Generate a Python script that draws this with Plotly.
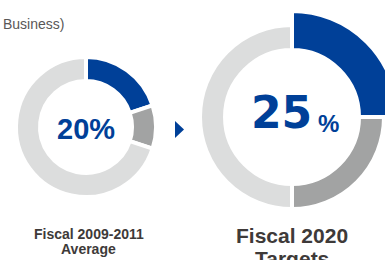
import plotly.graph_objects as go

W, H = 400, 260

# Data
left_labels = ["Share", "Other A", "Other B"]
left_values = [20, 10, 70]
right_labels = ["Share", "Other A", "Other B"]
right_values = [25, 25, 50]
left_center_text = "20%"
right_center_num = "25"
title_text = "Business)"
left_caption = ["Fiscal 2009-2011", "Average"]
right_caption = ["Fiscal 2020", "Targets"]

BLUE = "#004098"
DARK = "#A2A3A3"
LIGHT = "#DCDDDD"
TXT = "#3E3A39"
WHITE = "#FFFFFF"
LW = 4


def xd(a, b):
    return [a / W, min(b / W, 1.0)]


def yd(top, bottom):
    return [1 - bottom / H, 1 - top / H]


fig = go.Figure()

# left donut: center (86,127), outer 68, inner 48
R = 68 + LW / 2
fig.add_trace(go.Pie(
    labels=left_labels, values=left_values, sort=False, direction="clockwise",
    rotation=0, hole=(48 - LW / 2) / R, textinfo="none", hoverinfo="skip",
    marker=dict(colors=[BLUE, DARK, LIGHT], line=dict(color=WHITE, width=LW)),
    domain=dict(x=xd(86 - R, 86 + R), y=yd(127 - R, 127 + R)), showlegend=False,
))

# right donut ring: center (292,117), outer 90, inner 69
R2 = 90 + LW / 2
fig.add_trace(go.Pie(
    labels=right_labels, values=right_values, sort=False, direction="clockwise",
    rotation=0, hole=(69 - LW / 2) / R2, textinfo="none", hoverinfo="skip",
    marker=dict(colors=[BLUE, DARK, LIGHT], line=dict(color=WHITE, width=LW)),
    domain=dict(x=xd(292 - R2, 292 + R2), y=yd(117 - R2, 117 + R2)), showlegend=False,
))

# right highlighted slice: outer 104, inner 69
R3 = 104 + LW / 2
fig.add_trace(go.Pie(
    labels=[right_labels[0], "rest"], values=[right_values[0], sum(right_values[1:])],
    sort=False, direction="clockwise", rotation=0, hole=(69 - LW / 2) / R3,
    textinfo="none", hoverinfo="skip",
    marker=dict(colors=[BLUE, "rgba(0,0,0,0)"],
                line=dict(color=[WHITE, "rgba(0,0,0,0)"], width=[LW, 0])),
    domain=dict(x=xd(292 - R3, 292 + R3), y=yd(117 - R3, 117 + R3)), showlegend=False,
))


def ann(text, px, py, size, color, family, bold=False, xanchor="center"):
    t = f"<b>{text}</b>" if bold else text
    fig.add_annotation(text=t, x=px / W, y=1 - py / H, xref="paper", yref="paper",
                       xanchor=xanchor, yanchor="middle", showarrow=False,
                       font=dict(size=size, color=color, family=family))


ann(title_text, 1, 24, 14, "#595757", "Liberation Sans, Arial", xanchor="left")
ann(left_center_text, 85.5, 129, 29, BLUE, "Liberation Sans, Arial", bold=True)
ann(right_center_num, 281, 112, 44, BLUE, "DejaVu Sans", bold=True)
ann("%", 328, 123, 24, BLUE, "Liberation Sans, Arial", bold=True)
ann(left_caption[0], 88.5, 234, 14, TXT, "Liberation Sans, Arial", bold=True)
ann(left_caption[1], 88.5, 249, 14, TXT, "Liberation Sans, Arial", bold=True)
ann(right_caption[0], 291.5, 235, 21, TXT, "Liberation Sans, Arial", bold=True)
ann(right_caption[1], 291.5, 258, 21, TXT, "Liberation Sans, Arial", bold=True)

# arrow
fig.add_shape(type="path", xref="paper", yref="paper",
              path=f"M {175/W},{1-121/H} L {184/W},{1-129.5/H} L {175/W},{1-138/H} Z",
              fillcolor=BLUE, line=dict(width=0))

fig.update_layout(width=W, height=H, margin=dict(l=0, r=0, t=0, b=0),
                  paper_bgcolor="white", plot_bgcolor="white")

fig.write_html(
    "out.html",
    config={"displayModeBar": False},
    post_script=("document.body.style.margin='0';"
                 "document.body.style.overflow='hidden';"
                 "document.documentElement.style.overflow='hidden';"),
)
